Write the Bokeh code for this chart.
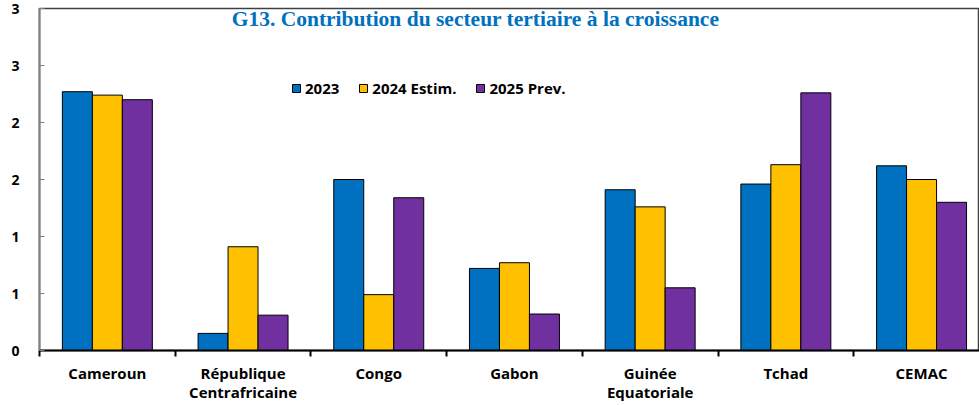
from bokeh.plotting import figure
from bokeh.models import (ColumnDataSource, Range1d, FixedTicker, Label, Legend, LegendItem)
from bokeh.embed import file_html
from bokeh.resources import INLINE

categories = ["Cameroun", "République\nCentrafricaine", "Congo", "Gabon",
              "Guinée\nEquatoriale", "Tchad", "CEMAC"]
series_names = ["2023", "2024 Estim.", "2025 Prev."]
v2023 = [2.27, 0.15, 1.50, 0.72, 1.41, 1.46, 1.62]
v2024 = [2.24, 0.91, 0.49, 0.77, 1.26, 1.63, 1.50]
v2025 = [2.20, 0.31, 1.34, 0.32, 0.55, 2.26, 1.30]
y_ticks = [0, 0.5, 1.0, 1.5, 2.0, 2.5, 3.0]
y_tick_labels = ["0", "1", "1", "2", "2", "3", "3"]
title_text = "G13. Contribution du secteur tertiaire à la croissance"

colors = ["#0070C0", "#FFC000", "#7030A0"]
FONT = "Open Sans"

n = len(categories)
centers = [i + 0.5 for i in range(n)]
bw = 0.221

p = figure(frame_width=940, frame_height=342, output_backend="svg",
           toolbar_location=None, min_border_left=39, min_border_top=8,
           min_border_right=0, min_border_bottom=0,
           x_range=Range1d(0, 6.927), y_range=Range1d(0, 3.0))

renderers = []
for k, (vals, name) in enumerate(zip([v2023, v2024, v2025], series_names)):
    src = ColumnDataSource(dict(x=[c + (k - 1) * bw for c in centers], top=vals))
    r = p.vbar(x="x", top="top", bottom=0, width=bw, source=src,
               fill_color=colors[k], line_color="black", line_width=1)
    renderers.append(r)

p.grid.visible = False
p.outline_line_color = "#404040"
p.outline_line_width = 1.5
p.background_fill_color = "white"
p.border_fill_color = "white"

# x axis (below)
xa = p.below[0]
xa.ticker = FixedTicker(ticks=centers, minor_ticks=list(range(n + 1)))
xa.major_label_overrides = {c: lab for c, lab in zip(centers, categories)}
xa.major_tick_out = 0
xa.major_tick_in = 0
xa.minor_tick_out = 6
xa.minor_tick_in = 0
xa.minor_tick_line_color = "black"
xa.minor_tick_line_width = 2
xa.axis_line_color = "black"
xa.axis_line_width = 2
xa.major_label_text_font = FONT
xa.major_label_text_font_style = "bold"
xa.major_label_text_font_size = "15px"
xa.major_label_text_line_height = 0.98
xa.major_label_text_color = "black"
xa.major_label_standoff = 6

# y axis
ya = p.left[0]
ya.ticker = FixedTicker(ticks=y_ticks, minor_ticks=[])
ya.major_label_overrides = {t: lab for t, lab in zip(y_ticks, y_tick_labels)}
ya.major_tick_out = 0
ya.major_tick_in = 5
ya.major_tick_line_color = "#808080"
ya.minor_tick_out = 0
ya.minor_tick_in = 0
ya.axis_line_color = "#808080"
ya.axis_line_width = 2
ya.major_label_text_font = FONT
ya.major_label_text_font_style = "bold"
ya.major_label_text_font_size = "14px"
ya.major_label_text_color = "black"
ya.major_label_standoff = 20

# title inside plot
p.add_layout(Label(x=3.213, y=2.904, text=title_text, text_font="Liberation Serif",
                   text_font_style="bold", text_font_size="21.5px", text_color="#0070C0",
                   text_align="center", text_baseline="middle"))

legend = Legend(items=[LegendItem(label=nm, renderers=[r]) for nm, r in zip(series_names, renderers)],
                orientation="horizontal", location=(252, 252),
                glyph_width=10, glyph_height=10, label_standoff=4, spacing=19,
                padding=0, margin=0, border_line_color=None, background_fill_alpha=0,
                label_text_font=FONT, label_text_font_style="bold",
                label_text_font_size="15px", label_text_color="black")
p.add_layout(legend)

open("out.html", "w").write(file_html(p, INLINE))
